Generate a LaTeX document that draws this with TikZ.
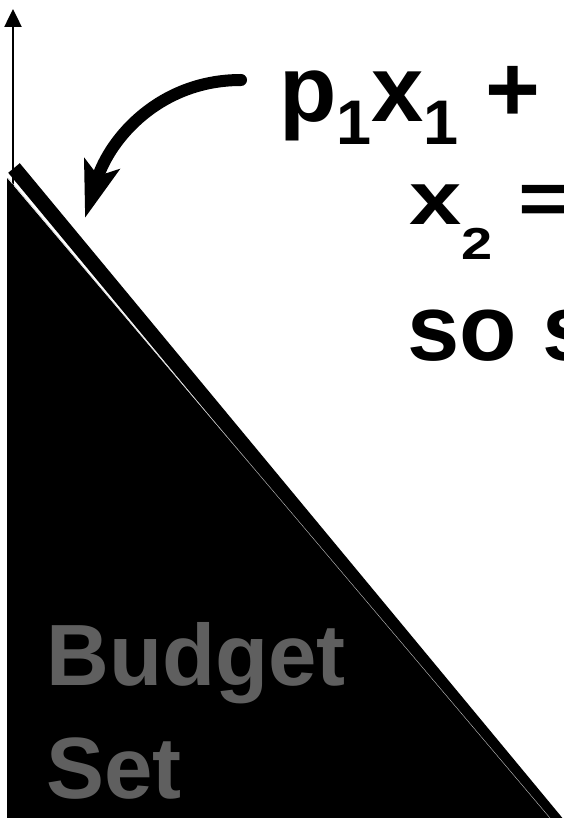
\documentclass[tikz,border=0pt]{standalone}
\usepackage{fontspec}
\setmainfont{Liberation Sans}
\usepackage{graphicx}
\usetikzlibrary{arrows.meta}
\definecolor{setgray}{RGB}{95,95,95}
\newcommand{\dsub}[3]{\raisebox{-#3}{\fontsize{#2}{#2}\selectfont #1}}

\begin{document}
\begin{tikzpicture}[x=1pt, y=-1pt,
  eqtext/.style={anchor=base west, inner sep=0pt, font=\fontsize{94}{94}\selectfont\bfseries},
  settext/.style={anchor=base west, inner sep=0pt, text=setgray, font=\fontsize{87}{87}\selectfont\bfseries},
  axisline/.style={line width=2.5pt, -{Triangle[length=18pt,width=17pt]}},
  budgetline/.style={line width=15pt, line cap=butt},
  seam/.style={line width=0.4pt, gray!45},
  pointer/.style={line width=12pt, line cap=round, -{Stealth[length=56pt,width=36pt,inset=12pt]}},
]
\useasboundingbox (0,0) rectangle (563,818);
\clip (0,0) rectangle (563,818);
\coordinate (origin) at (13,818);
\coordinate (ytop) at (13,9);
\coordinate (lnstart) at (14,168);
\coordinate (lnend) at (590,863);
\coordinate (tail) at (241,80);
\coordinate (head) at (85,218);
\draw[axisline] (origin) -- (ytop);
\fill (7,178) -- (7,818) -- (550,818) -- cycle;
\draw[budgetline] (lnstart) -- (lnend);
\draw[seam] (8,178) -- (550,818);
\draw[pointer] (tail) .. controls (160,80) and (110,138) .. (head);
\node[eqtext] (eqone) at (279,122) {p\dsub{1}{63pt}{23pt}x\dsub{1}{63pt}{23pt} +};
\node[eqtext] (eqtwo) at (409,225) {\scalebox{1}[0.8]{x\dsub{2}{56pt}{43pt} =}};
\node[eqtext] (eqthree) at (407,360) {so s};
\node[settext] (budget) at (46,685) {Budget};
\node[settext] (set) at (46,798) {Set};
\end{tikzpicture}
\end{document}
